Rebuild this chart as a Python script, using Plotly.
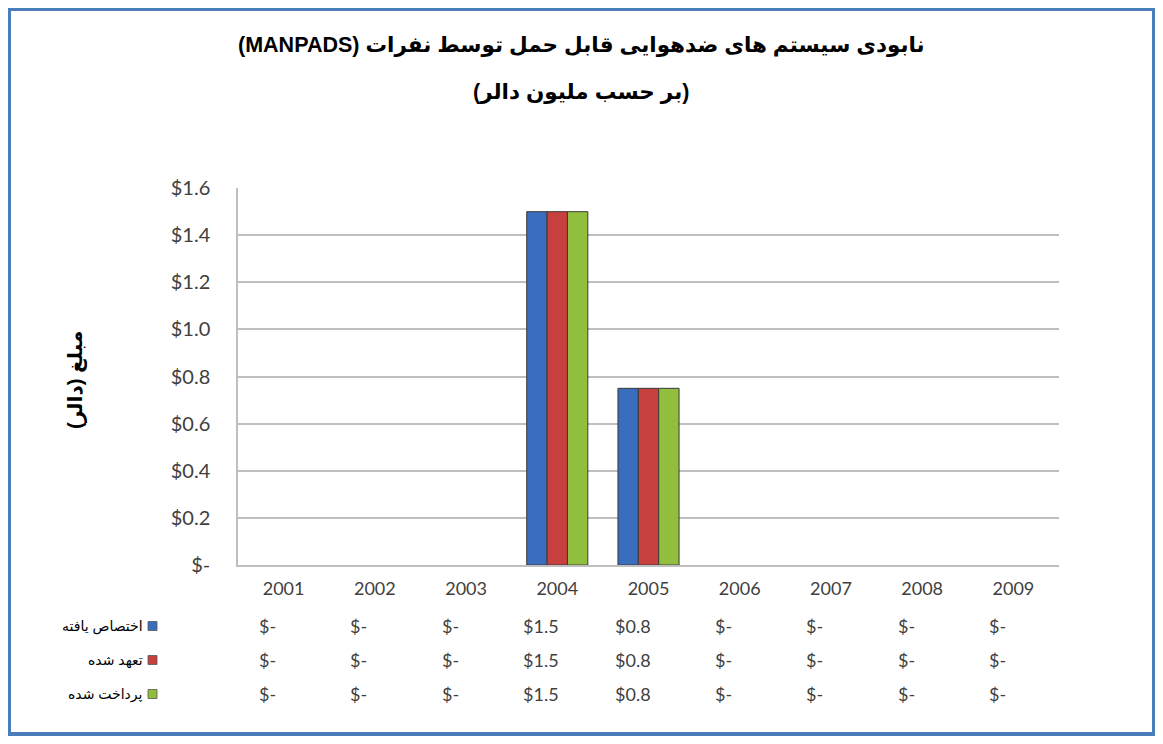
import plotly.graph_objects as go

years = ["2001", "2002", "2003", "2004", "2005", "2006", "2007", "2008", "2009"]
series_names = ["اختصاص یافته", "تعهد شده", "پرداخت شده"]
allocated = [0, 0, 0, 1.5, 0.75, 0, 0, 0, 0]
obligated = [0, 0, 0, 1.5, 0.75, 0, 0, 0, 0]
disbursed = [0, 0, 0, 1.5, 0.75, 0, 0, 0, 0]
y_ticks = [0, 0.2, 0.4, 0.6, 0.8, 1.0, 1.2, 1.4, 1.6]
title_line1 = "نابودی سیستم های ضدهوایی قابل حمل توسط نفرات (MANPADS)"
title_line2 = "(بر حسب مليون دالر)"
y_title = "مبلغ (دالر)"

colors = ["#3B6DBE", "#C8403D", "#92BE3E"]
series_vals = [allocated, obligated, disbursed]

RLE, PDF = "\u202B", "\u202C"


def fmt(v):
    return "$-" if v == 0 else f"${v:.1f}"


OFF = 8  # page body margin
W, H = 1163 - 2 * OFF, 744 - 2 * OFF
# plot area in page pixels: x 238..1059, y 188..565
L, T = 238 - OFF, 188 - OFF
R, B = W - (1059 - OFF), H - (565 - OFF)
pw, ph = W - L - R, H - T - B


def px(xp):
    return (xp - OFF - L) / pw


def py(yp):
    return (T + ph - (yp - OFF)) / ph


fig = go.Figure()
for name, vals, c in zip(series_names, series_vals, colors):
    fig.add_trace(go.Bar(
        x=years, y=vals, name=name,
        marker=dict(color=c, line=dict(color="#3a3a3a", width=[1 if v else 0 for v in vals])),
        showlegend=False,
    ))

annotations = []
title_font = dict(family="Liberation Sans, DejaVu Sans, Arial", size=21.5, color="black")
for txt, ypix in [(title_line1, 45), (title_line2, 92)]:
    annotations.append(dict(
        text=f"<b>{RLE}{txt}{PDF}</b>", xref="paper", yref="paper",
        x=px(581), y=py(ypix), showarrow=False, font=title_font,
        xanchor="center", yanchor="middle",
    ))
annotations.append(dict(
    text=f"<b>{RLE}{y_title}{PDF}</b>", xref="paper", yref="paper",
    x=px(75), y=py(380), textangle=-90, showarrow=False,
    font=dict(family="Liberation Sans, DejaVu Sans, Arial", size=20, color="black"),
    xanchor="center", yanchor="middle",
))

row_py = [626, 660, 694]
for r, (name, vals, c) in enumerate(zip(series_names, series_vals, colors)):
    yp = py(row_py[r])
    annotations.append(dict(
        text=name, xref="paper", yref="paper", x=px(145), y=yp,
        showarrow=False, xanchor="right", yanchor="middle",
        font=dict(family="Liberation Sans, DejaVu Sans, Arial", size=14, color="black"),
    ))
    fig.add_shape(type="rect", xref="paper", yref="paper",
                  x0=px(148), x1=px(157),
                  y0=yp - 4.5 / ph, y1=yp + 4.5 / ph,
                  fillcolor=c, line=dict(color="#555555", width=0.8))
    for i, v in enumerate(vals):
        annotations.append(dict(
            text=fmt(v), xref="x", yref="paper", x=i, y=yp,
            xshift=-16, showarrow=False, xanchor="center", yanchor="middle",
            font=dict(family="Lato, Open Sans", size=18, color="#404040"),
        ))

fig.add_shape(type="rect", xref="paper", yref="paper",
              x0=px(9), x1=px(1154), y0=py(734), y1=py(9),
              line=dict(color="#4A7EBB", width=4), fillcolor="rgba(0,0,0,0)")

fig.update_layout(
    width=W, height=H,
    margin=dict(l=L, r=R, t=T, b=B, autoexpand=False),
    paper_bgcolor="white", plot_bgcolor="white",
    barmode="group", bargap=0.33, bargroupgap=0.0,
    annotations=annotations,
    font=dict(family="Lato, Open Sans", color="#404040"),
)
fig.update_xaxes(
    type="category", range=[-0.5, 8.5], automargin=False,
    showline=True, linecolor="#BFBFBF", linewidth=1.5,
    showgrid=False, tickfont=dict(family="Lato, Open Sans", size=18, color="#404040"),
    ticks="", ticklabelstandoff=7,
)
fig.update_yaxes(
    range=[0, 1.6005], tickvals=y_ticks, ticktext=[fmt(v) for v in y_ticks], automargin=False,
    showline=True, linecolor="#BFBFBF", linewidth=1.5,
    showgrid=True, gridcolor="#BFBFBF", gridwidth=1.5, zeroline=False,
    tickfont=dict(family="Lato, Open Sans", size=20, color="#404040"),
    ticks="", ticklabelstandoff=22,
)

fig.write_html("out.html")
